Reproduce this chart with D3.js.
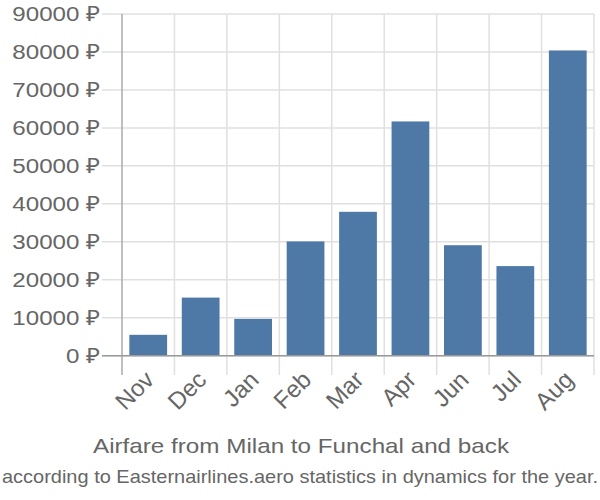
<!DOCTYPE html>
<html><head><meta charset="utf-8">
<script src="https://cdn.jsdelivr.net/npm/d3@7"></script>
<style>body{margin:0;background:#fff}svg{display:block}</style>
</head><body>
<svg id="c" width="600" height="500"></svg>
<script>
const categories = ["Nov","Dec","Jan","Feb","Mar","Apr","Jun","Jul","Aug"];
const values = [5500,15300,9700,30100,37900,61700,29100,23600,80400];
const yTicks = [0,10000,20000,30000,40000,50000,60000,70000,80000,90000];
const title = "Airfare from Milan to Funchal and back";
const subtitle = "according to Easternairlines.aero statistics in dynamics for the year.";

const svg = d3.select("#c");
const pLeft = 122, pRight = 594, pTop = 14, pBottom = 355.7;
const font = "'Liberation Sans', Arial, sans-serif";
const tc = "#666";

const x = d3.scaleBand().domain(categories).range([pLeft, pRight]);
const y = d3.scaleLinear().domain([0, 90000]).range([pBottom, pTop]);

// horizontal grid
svg.append("g").selectAll("line").data(yTicks).join("line")
  .attr("x1", 102).attr("x2", pRight).attr("y1", d => y(d)).attr("y2", d => y(d))
  .attr("stroke", "#e0e0e0").attr("stroke-width", 1.5);
// vertical grid / ticks at band boundaries
const bounds = categories.map(c => x(c)).concat([pRight]);
svg.append("g").selectAll("line").data(bounds.slice(1)).join("line")
  .attr("x1", d => d).attr("x2", d => d).attr("y1", pTop).attr("y2", 375)
  .attr("stroke", "#e0e0e0").attr("stroke-width", 1.5);

// bars
const bw = x.bandwidth() * 0.72;
svg.append("g").selectAll("rect").data(values).join("rect")
  .attr("x", (d, i) => x(categories[i]) + (x.bandwidth() - bw) / 2)
  .attr("width", bw)
  .attr("y", d => y(d))
  .attr("height", d => y(0) - y(d))
  .attr("fill", "#4e79a7");

// axes lines
svg.append("line").attr("x1", pLeft).attr("x2", pLeft).attr("y1", pTop).attr("y2", 375)
  .attr("stroke", "#aaa").attr("stroke-width", 1.5);
svg.append("line").attr("x1", 102).attr("x2", pRight).attr("y1", pBottom).attr("y2", pBottom)
  .attr("stroke", "#999").attr("stroke-width", 1.5);

// y labels
svg.append("g").selectAll("text").data(yTicks).join("text")
  .attr("transform", d => `translate(100,${y(d)}) scale(1.15,1)`)
  .attr("text-anchor", "end").attr("dy", "0.35em")
  .attr("font-family", font).attr("font-size", 21).attr("fill", tc)
  .text(d => d + " ₽");

// x labels
svg.append("g").selectAll("text").data(categories).join("text")
  .attr("transform", d => `translate(${x(d) + x.bandwidth()/2 - 3},${371}) rotate(-45)`)
  .attr("text-anchor", "end").attr("dy", "0.6em")
  .attr("font-family", font).attr("font-size", 24).attr("fill", tc)
  .text(d => d);

// titles
svg.append("text").attr("x", 301).attr("y", 453).attr("text-anchor", "middle")
  .attr("font-family", font).attr("font-size", 21).attr("fill", tc)
  .attr("textLength", 416).attr("lengthAdjust", "spacingAndGlyphs")
  .text(title);
svg.append("text").attr("x", 300).attr("y", 483).attr("text-anchor", "middle")
  .attr("font-family", font).attr("font-size", 19).attr("fill", tc)
  .attr("textLength", 596).attr("lengthAdjust", "spacingAndGlyphs")
  .text(subtitle);
</script>
</body></html>
